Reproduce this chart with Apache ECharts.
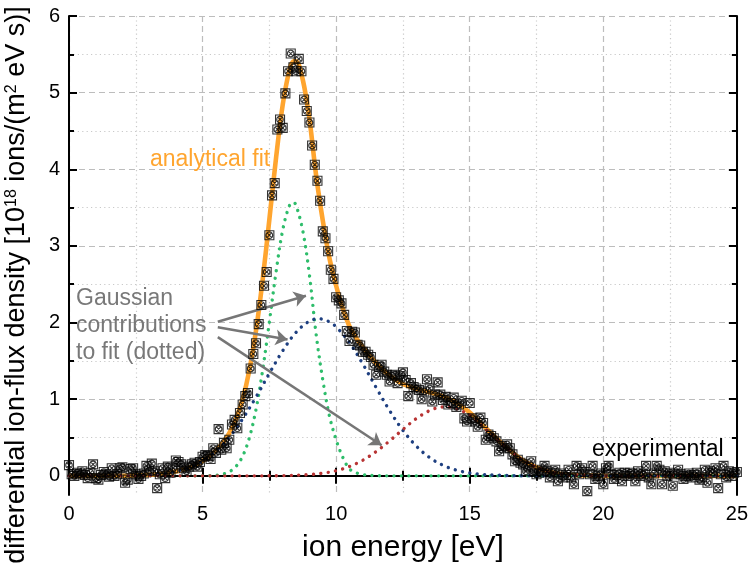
<!DOCTYPE html>
<html>
<head>
<meta charset="utf-8">
<script src="https://cdn.jsdelivr.net/npm/echarts@6/dist/echarts.min.js"></script>
<style>html,body{margin:0;padding:0;background:#fff}#c{width:751px;height:568px}</style>
</head>
<body>
<div id="c"></div>
<script>
// ---- data ----
const expStart = 0, expStep = 0.1;
const expY = [
 0.14, 0.02, 0.00, 0.04, 0.02, 0.06, 0.01,-0.03, 0.04, 0.15,
-0.03,-0.05, 0.01, 0.05, 0.02,-0.01, 0.10, 0.00, 0.02, 0.10,
 0.11,-0.09,-0.05, 0.09, 0.10, 0.02,-0.04, 0.00, 0.03, 0.13,
 0.07, 0.16, 0.06,-0.16, 0.02, 0.10,-0.03, 0.12, 0.04, 0.10,
 0.20, 0.18, 0.15, 0.10, 0.06, 0.12, 0.15, 0.17, 0.12, 0.18,
 0.25, 0.27, 0.26, 0.22, 0.36, 0.30, 0.61, 0.34, 0.43, 0.36,
 0.47, 0.67, 0.73, 0.62, 0.82, 0.93, 1.04, 1.08, 1.40, 1.59,
 1.73, 1.98, 2.23, 2.48, 2.66, 3.14, 3.66, 3.82, 4.52, 4.65,
 4.54, 4.99, 5.28, 5.51, 5.33, 5.28, 5.44, 5.28, 4.91, 4.76,
 4.61, 4.31, 4.06, 3.85, 3.59, 3.19, 3.10, 2.93, 2.69, 2.57,
 2.33, 2.29, 2.25, 2.10, 1.89, 1.76, 1.88, 1.87, 1.71, 1.70,
 1.62, 1.62, 1.58, 1.55, 1.45, 1.32, 1.42, 1.45, 1.36, 1.32,
 1.23, 1.31, 1.32, 1.21, 1.30, 1.35, 1.25, 1.04, 1.21, 1.16,
 1.14, 1.12, 1.00, 1.10, 1.26, 1.14, 0.97, 1.06, 1.22, 1.06,
 0.99, 1.03, 0.93, 0.95, 1.02, 0.90, 0.93, 0.98, 0.75, 0.71,
 0.95, 0.75, 0.71, 0.64, 0.76, 0.69, 0.47, 0.54, 0.52, 0.49,
 0.45, 0.32, 0.39, 0.36, 0.41, 0.36, 0.28, 0.19, 0.21, 0.17,
 0.15, 0.06, 0.12, 0.19, 0.06, 0.02, 0.04, 0.08, 0.13, 0.06,
-0.02, 0.04, 0.08,-0.07, 0.03,-0.02, 0.01, 0.08,-0.02,-0.11,
 0.13, 0.02, 0.10, 0.05,-0.20, 0.02, 0.13,-0.04, 0.00, 0.03,
-0.11, 0.10, 0.13, 0.02,-0.04, 0.01, 0.04,-0.07, 0.04, 0.00,
 0.04, 0.02,-0.07, 0.06, 0.00, 0.02, 0.13,-0.02,-0.11, 0.03,
 0.13, 0.08,-0.11, 0.06, 0.00, 0.04,-0.13, 0.02, 0.08, 0.02,
-0.04, 0.00, 0.03,-0.02, 0.01, 0.04,-0.05,-0.02, 0.08,-0.09,
 0.06, 0.04, 0.10,-0.16, 0.02, 0.13,-0.02, 0.06, 0.00, 0.04,
 0.05
];
const fitCurve = [[0,0],[1,0],[2,0.002],[2.5,0.006],[3,0.013],[3.5,0.028],[4,0.057],[4.25,0.079],[4.5,0.108],[4.75,0.146],
 [5,0.194],[5.25,0.254],[5.5,0.329],[5.75,0.427],[6,0.557],[6.25,0.739],[6.5,1.0],[6.75,1.376],[7,1.894],[7.25,2.563],
 [7.5,3.344],[7.75,4.147],[8,4.842],[8.25,5.293],[8.4,5.41],[8.5,5.41],[8.75,5.17],[9,4.655],[9.25,3.92],[9.5,3.33],
 [9.75,2.84],[10,2.48],[10.25,2.18],[10.5,1.95],[10.75,1.80],[11,1.68],[11.25,1.571],[11.5,1.47],[11.75,1.382],[12,1.308],
 [12.25,1.248],[12.5,1.199],[12.75,1.163],[13,1.135],[13.25,1.111],[13.5,1.089],[13.75,1.065],[14,1.036],[14.25,0.997],[14.5,0.952],
 [14.75,0.894],[15,0.828],[15.25,0.746],[15.5,0.658],[15.75,0.572],[16,0.488],[16.25,0.405],[16.5,0.333],[16.75,0.262],[17,0.201],
 [17.5,0.11],[18,0.05],[18.5,0.02],[19,0.008],[19.5,0.003],[20,0],[25,0]];
const gaussGreen = [[0,0],[5,0],[5.5,0.007],[5.75,0.021],[6,0.053],[6.25,0.122],[6.5,0.257],[6.75,0.495],[7,0.866],[7.25,1.382],
 [7.5,2.007],[7.75,2.658],[8,3.207],[8.25,3.525],[8.4,3.57],[8.5,3.53],[8.75,3.2],[9,2.62],[9.25,1.85],[9.5,1.25],
 [9.75,0.78],[10,0.47],[10.25,0.24],[10.5,0.09],[10.75,0.04],[11,0.015],[11.5,0.003],[12,0],[25,0]];
const gaussBlue = [[0,0],[2,0.002],[3,0.013],[3.5,0.028],[4,0.057],[4.5,0.108],[5,0.193],[5.5,0.322],[6,0.504],[6.5,0.743],
 [7,1.028],[7.5,1.337],[8,1.632],[8.5,1.873],[9,2.019],[9.35,2.05],[9.75,2.009],[10,1.945],[10.5,1.738],[11,1.459],
 [11.5,1.150],[12,0.852],[12.5,0.593],[13,0.388],[13.5,0.238],[14,0.137],[14.5,0.074],[15,0.038],[15.5,0.018],[16,0.008],
 [17,0.001],[18,0],[25,0]];
const gaussRed = [[0,0],[7,0],[8,0.003],[9,0.016],[9.5,0.034],[10,0.067],[10.5,0.122],[11,0.204],[11.5,0.317],[12,0.456],
 [12.5,0.606],[13,0.747],[13.5,0.851],[14,0.899],[14.25,0.897],[14.5,0.878],[15,0.79],[15.5,0.64],[16,0.48],[16.5,0.33],
 [17,0.20],[17.5,0.11],[18,0.05],[18.5,0.02],[19,0.008],[20,0],[25,0]];
const xTicks = [0, 5, 10, 15, 20, 25];
const yMajor = [0, 1, 2, 3, 4, 5, 6];
const yMinor = [0.5, 1.5, 2.5, 3.5, 4.5, 5.5];
const arrows = [[[5.57,2.01],[8.87,2.35]], [[5.57,1.94],[8.18,1.78]], [[5.57,1.81],[11.7,0.40]]];

// ---- chart ----
const FF = "'Liberation Sans', Arial, sans-serif";
const expData = expY.map((v, i) => [Math.round((expStart + i * expStep) * 10) / 10, v]);
const chart = echarts.init(document.getElementById('c'), null, {renderer: 'canvas'});
const dotted = (color) => ({width: 3.4, color: color, type: [0.01, 7.4], cap: 'round'});
const tickStyle = {color: '#000', width: 2};
const yBase = {type: 'value', min: -0.25, max: 6, axisLabel: {show: false}, axisLine: {show: false}, splitLine: {show: false}};

chart.setOption({
  animation: false,
  grid: {left: 69, right: 12, top: 16, bottom: 71, containLabel: false},
  xAxis: [
    {type: 'value', min: 0, max: 25, interval: 5, position: 'bottom',
     axisLine: {show: true, lineStyle: {color: '#000', width: 2}},
     axisTick: {show: true, inside: true, length: 8, lineStyle: tickStyle},
     minorTick: {show: true, splitNumber: 2, length: 5, lineStyle: tickStyle},
     axisLabel: {fontSize: 20, color: '#000', fontFamily: FF, margin: 9,
       formatter: v => (xTicks.indexOf(v) >= 0 ? String(v) : '')},
     splitLine: {show: true, lineStyle: {color: '#bdbdbd', width: 1.2, type: [6, 4]}},
     minorSplitLine: {show: true, lineStyle: {color: '#c9c9c9', width: 1.2, type: [1.2, 3.2]}},
     name: 'ion energy [eV]', nameLocation: 'middle', nameGap: 38,
     nameTextStyle: {fontSize: 30, color: '#000', fontFamily: FF}},
    {type: 'value', min: 0, max: 25, interval: 5, position: 'top',
     axisLine: {show: true, lineStyle: {color: '#000', width: 2}},
     axisTick: {show: true, inside: true, length: 8, lineStyle: tickStyle},
     minorTick: {show: true, splitNumber: 2, length: 5, lineStyle: tickStyle},
     axisLabel: {show: false}, splitLine: {show: false}}
  ],
  yAxis: [
    {type: 'value', min: -0.25, max: 6, position: 'left',
     axisLine: {show: true, lineStyle: {color: '#000', width: 2}},
     axisTick: {show: true, inside: true, length: 8, lineStyle: tickStyle, customValues: yMajor},
     axisLabel: {show: true, customValues: yMajor, fontSize: 20, color: '#000', fontFamily: FF, margin: 9},
     splitLine: {show: true, lineStyle: {color: '#bdbdbd', width: 1.2, type: [6, 4]}}},
    Object.assign({}, yBase, {position: 'left',
     axisTick: {show: true, inside: true, length: 5, lineStyle: tickStyle, customValues: yMinor},
     splitLine: {show: true, lineStyle: {color: '#c9c9c9', width: 1.2, type: [1.2, 3.2]}}}),
    Object.assign({}, yBase, {position: 'right',
     axisLine: {show: true, lineStyle: {color: '#000', width: 2}},
     axisTick: {show: true, inside: true, length: 8, lineStyle: tickStyle, customValues: yMajor}}),
    Object.assign({}, yBase, {position: 'right',
     axisTick: {show: true, inside: true, length: 5, lineStyle: tickStyle, customValues: yMinor}})
  ],
  series: [
    {type: 'line', name: 'fit', data: fitCurve, smooth: 0.35, showSymbol: false, z: 2,
     lineStyle: {color: '#FFA52F', width: 4.6}},
    {type: 'line', name: 'g1', data: gaussGreen, smooth: 0.35, showSymbol: false, z: 3, lineStyle: dotted('#2EBD6B')},
    {type: 'line', name: 'g2', data: gaussBlue, smooth: 0.35, showSymbol: false, z: 3, lineStyle: dotted('#1E3F80')},
    {type: 'line', name: 'g3', data: gaussRed, smooth: 0.35, showSymbol: false, z: 3, lineStyle: dotted('#B83434'),
     markLine: {silent: true, symbol: ['none', 'arrow'], symbolSize: 12, label: {show: false},
       lineStyle: {color: '#767676', width: 2.5, type: 'solid'},
       itemStyle: {color: '#767676'},
       data: arrows.map(a => [{coord: a[0]}, {coord: a[1]}])}},
    {type: 'scatter', name: 'exp', data: expData, z: 5, symbolSize: 9,
     symbol: 'path://M0,0H10V10H0Z M1.4,5A3.6,3.6,0,1,0,8.6,5A3.6,3.6,0,1,0,1.4,5Z M2.5,2.5L7.5,7.5M7.5,2.5L2.5,7.5',
     itemStyle: {color: 'rgba(0,0,0,0)', borderColor: '#000', borderWidth: 1.1}}
  ],
  graphic: [
    {type: 'text', x: 17, y: 285, rotation: Math.PI / 2, z: 10,
     style: {text: 'differential ion-flux density [10{sup|18} ions/(m{sup|2} eV s)]',
       font: '27px ' + FF, fill: '#000', align: 'center', verticalAlign: 'middle',
       rich: {sup: {fontSize: 16, fontFamily: FF, verticalAlign: 'top', lineHeight: 16, fill: '#000'}}}},
    {type: 'text', x: 150, y: 160, z: 10,
     style: {text: 'analytical fit', font: '23px ' + FF, fill: '#FFA52F', align: 'left', verticalAlign: 'middle'}},
    {type: 'text', x: 76, y: 285, z: 10,
     style: {text: 'Gaussian\ncontributions\nto fit (dotted)', font: '23px ' + FF, fill: '#787878',
       align: 'left', verticalAlign: 'top', lineHeight: 27}},
    {type: 'text', x: 592, y: 450, z: 10,
     style: {text: 'experimental', font: '23px ' + FF, fill: '#000', align: 'left', verticalAlign: 'middle'}}
  ]
});
</script>
</body>
</html>
